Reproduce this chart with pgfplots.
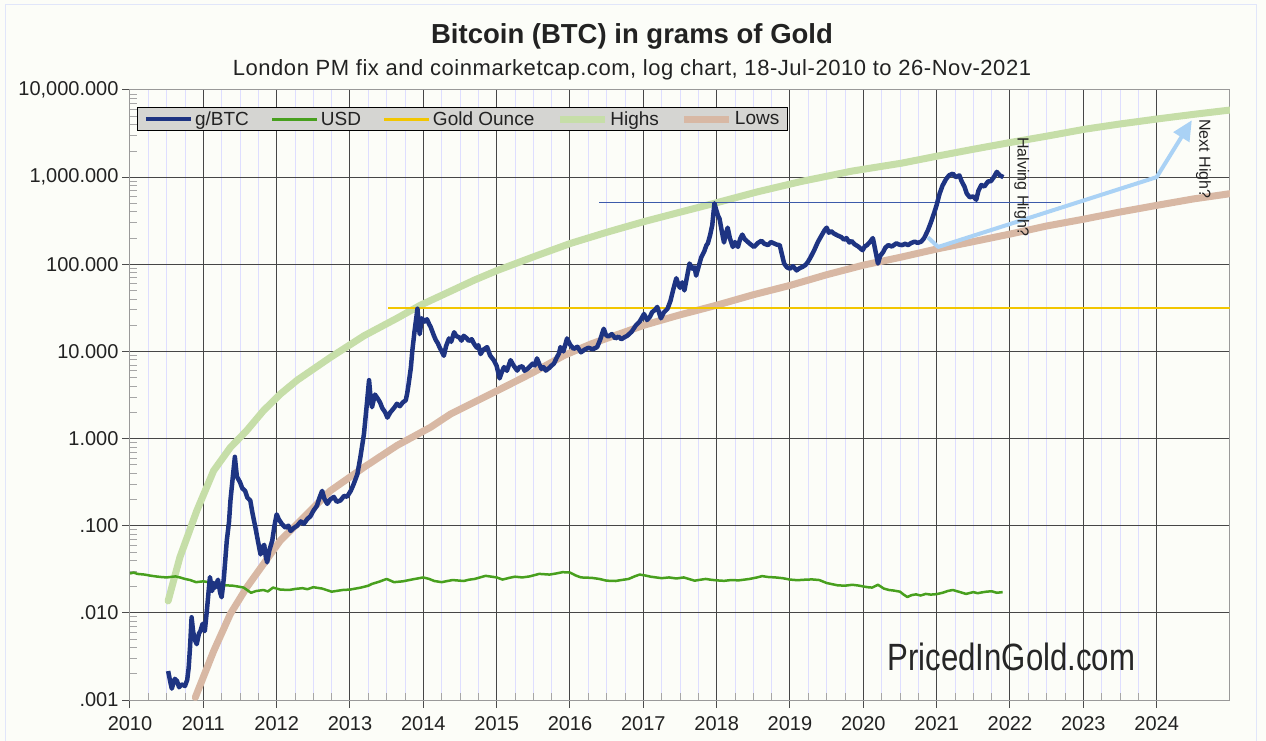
\documentclass[border=0pt]{standalone}
\usepackage{fontspec}
\setmainfont{Liberation Sans}
\newfontfamily\wmfont[FakeStretch=0.82]{Liberation Sans}
\usepackage{pgfplots}
\pgfplotsset{compat=1.18}
\usetikzlibrary{arrows.meta}
\definecolor{bgc}{RGB}{252,253,248}
\definecolor{borderc}{RGB}{225,230,250}
\definecolor{btc}{RGB}{30,52,130}
\definecolor{usd}{RGB}{72,160,30}
\definecolor{goldc}{RGB}{242,198,0}
\definecolor{highc}{RGB}{198,222,168}
\definecolor{lowc}{RGB}{216,184,164}
\definecolor{arrowc}{RGB}{170,210,245}
\definecolor{hlinec}{RGB}{60,90,170}
\definecolor{legc}{RGB}{213,213,210}
\definecolor{gridc}{RGB}{70,70,70}
\definecolor{minorc}{RGB}{222,222,255}
\definecolor{textc}{RGB}{34,34,34}

\pgfplotstableread{
x y
2010.52 0.00215
2010.55 0.00160
2010.57 0.00135
2010.61 0.00175
2010.64 0.00166
2010.67 0.00140
2010.70 0.00151
2010.75 0.00145
2010.78 0.00170
2010.80 0.00234
2010.82 0.00420
2010.84 0.0089
2010.86 0.0062
2010.88 0.0050
2010.91 0.00437
2010.94 0.0058
2010.96 0.00617
2010.99 0.0075
2011.02 0.00617
2011.05 0.0110
2011.09 0.0257
2011.12 0.0178
2011.14 0.0220
2011.16 0.0195
2011.20 0.024
2011.23 0.0170
2011.25 0.0151
2011.28 0.0250
2011.32 0.0676
2011.35 0.110
2011.37 0.195
2011.40 0.350
2011.43 0.617
2011.45 0.420
2011.46 0.363
2011.50 0.316
2011.53 0.270
2011.57 0.251
2011.60 0.210
2011.64 0.195
2011.67 0.140
2011.71 0.0955
2011.74 0.0700
2011.78 0.0468
2011.80 0.0560
2011.83 0.0603
2011.85 0.0450
2011.87 0.038
2011.90 0.0520
2011.94 0.0676
2011.97 0.100
2012.00 0.135
2012.03 0.118
2012.07 0.105
2012.12 0.095
2012.16 0.100
2012.19 0.0871
2012.24 0.095
2012.28 0.1
2012.33 0.112
2012.37 0.105
2012.42 0.120
2012.46 0.128
2012.50 0.148
2012.55 0.170
2012.58 0.205
2012.62 0.251
2012.65 0.205
2012.69 0.178
2012.73 0.200
2012.78 0.214
2012.82 0.188
2012.87 0.195
2012.92 0.220
2012.96 0.215
2013.01 0.251
2013.05 0.300
2013.10 0.389
2013.14 0.600
2013.19 1.122
2013.23 2.50
2013.26 4.68
2013.28 3.00
2013.30 2.29
2013.34 3.20
2013.37 2.95
2013.41 2.60
2013.44 2.24
2013.48 2.00
2013.51 1.74
2013.55 2.00
2013.58 2.14
2013.61 2.30
2013.64 2.51
2013.68 2.35
2013.72 2.60
2013.76 2.75
2013.78 3.30
2013.80 4.27
2013.83 6.50
2013.85 10.2
2013.88 17.0
2013.92 30.9
2013.95 15.8
2013.98 24.0
2014.02 22.0
2014.05 23.4
2014.08 20.5
2014.10 19.1
2014.14 15.5
2014.17 13.5
2014.20 12.3
2014.22 11.2
2014.25 10.0
2014.28 8.91
2014.31 11.5
2014.35 14.1
2014.38 12.9
2014.42 16.6
2014.45 15.0
2014.49 14.5
2014.52 13.3
2014.55 15.1
2014.59 14.2
2014.62 13.2
2014.66 13.8
2014.69 12.3
2014.73 11.0
2014.75 11.8
2014.78 9.33
2014.82 10.5
2014.87 11.2
2014.91 9.0
2014.96 7.94
2015.00 6.8
2015.04 4.90
2015.07 5.8
2015.10 6.61
2015.14 6.0
2015.19 7.94
2015.23 6.9
2015.28 6.03
2015.31 6.6
2015.35 6.76
2015.38 6.0
2015.42 6.31
2015.46 6.8
2015.49 7.24
2015.52 6.9
2015.55 8.32
2015.58 7.2
2015.61 6.31
2015.64 6.6
2015.67 6.03
2015.72 6.5
2015.75 6.9
2015.78 7.24
2015.82 8.5
2015.85 9.5
2015.87 11.2
2015.91 10.0
2015.96 14.1
2016.00 12.0
2016.05 10.7
2016.10 11.3
2016.15 9.77
2016.20 10.5
2016.25 11.0
2016.31 10.6
2016.37 11.2
2016.41 13.5
2016.46 18.2
2016.49 15.5
2016.52 14.8
2016.57 15.8
2016.62 14.1
2016.66 14.8
2016.70 13.8
2016.74 14.5
2016.78 15.1
2016.84 16.8
2016.90 20.0
2016.95 22.0
2017.01 26.9
2017.05 22.9
2017.09 25.0
2017.12 28.2
2017.16 30.0
2017.19 32.4
2017.22 27.0
2017.24 24.0
2017.28 28.0
2017.33 30.9
2017.37 38.0
2017.41 52.0
2017.45 69.2
2017.48 58.0
2017.50 53.7
2017.53 62.0
2017.56 50.1
2017.60 75.0
2017.63 102
2017.67 89.1
2017.70 92.0
2017.72 74.1
2017.76 98.0
2017.79 120
2017.83 140
2017.86 165
2017.88 174
2017.91 215
2017.94 282
2017.97 501
2017.99 430
2018.02 360
2018.04 331
2018.07 240
2018.10 178
2018.13 230
2018.15 263
2018.18 200
2018.22 158
2018.25 180
2018.29 158
2018.32 195
2018.35 219
2018.38 195
2018.42 182
2018.46 170
2018.51 158
2018.56 175
2018.61 186
2018.65 172
2018.70 166
2018.74 180
2018.78 174
2018.82 168
2018.86 166
2018.89 130
2018.92 102
2018.96 92.0
2019.00 89.1
2019.04 95.0
2019.09 85.1
2019.13 90.0
2019.17 93.3
2019.21 98.0
2019.24 105
2019.28 120
2019.33 145
2019.38 180
2019.43 214
2019.47 245
2019.50 263
2019.53 230
2019.56 240
2019.60 225
2019.65 214
2019.70 205
2019.74 191
2019.77 200
2019.81 178
2019.84 185
2019.88 170
2019.93 160
2019.99 145
2020.02 160
2020.05 166
2020.09 180
2020.13 200
2020.16 150
2020.20 102
2020.23 125
2020.27 138
2020.30 155
2020.34 166
2020.39 160
2020.45 174
2020.49 168
2020.53 166
2020.57 172
2020.61 166
2020.65 175
2020.70 182
2020.74 176
2020.79 182
2020.83 200
2020.88 245
2020.92 300
2020.97 398
2021.00 480
2021.04 646
2021.08 800
2021.13 955
2021.17 1050
2021.22 1096
2021.26 1000
2021.31 1047
2021.34 900
2021.38 776
2021.41 650
2021.45 589
2021.50 600
2021.54 550
2021.57 700
2021.61 813
2021.65 780
2021.70 891
2021.74 900
2021.78 1000
2021.82 1148
2021.86 1050
2021.91 1000
}\btcdata

\pgfplotstableread{
x y
2010.00 0.0283
2010.05 0.0290
2010.10 0.0280
2010.20 0.0275
2010.27 0.0268
2010.35 0.0262
2010.42 0.0258
2010.50 0.0255
2010.62 0.0262
2010.68 0.0255
2010.75 0.0245
2010.82 0.0238
2010.90 0.0225
2011.00 0.0230
2011.10 0.0223
2011.20 0.0218
2011.30 0.0207
2011.40 0.0205
2011.48 0.0200
2011.55 0.0195
2011.65 0.0170
2011.72 0.0178
2011.82 0.0183
2011.88 0.0176
2011.95 0.0195
2012.05 0.0185
2012.17 0.0183
2012.25 0.0188
2012.35 0.0192
2012.42 0.0187
2012.50 0.0197
2012.62 0.0190
2012.75 0.0175
2012.90 0.0183
2013.00 0.0185
2013.15 0.0195
2013.25 0.0205
2013.30 0.0215
2013.40 0.0228
2013.50 0.0245
2013.60 0.0225
2013.72 0.0230
2013.85 0.0242
2014.00 0.0255
2014.08 0.0245
2014.15 0.0232
2014.25 0.0225
2014.33 0.0232
2014.40 0.0238
2014.55 0.0232
2014.62 0.0240
2014.70 0.0245
2014.85 0.0266
2015.00 0.0255
2015.08 0.0241
2015.17 0.0252
2015.25 0.0260
2015.35 0.0255
2015.45 0.0262
2015.58 0.0280
2015.72 0.0275
2015.80 0.0282
2015.90 0.0293
2016.00 0.0290
2016.08 0.0268
2016.15 0.0255
2016.30 0.0252
2016.40 0.0245
2016.50 0.0234
2016.62 0.0232
2016.70 0.0238
2016.80 0.0245
2016.88 0.0262
2016.95 0.0275
2017.03 0.0268
2017.10 0.0260
2017.25 0.0250
2017.35 0.0255
2017.45 0.0248
2017.55 0.0255
2017.70 0.0234
2017.78 0.0240
2017.85 0.0245
2017.92 0.0240
2018.00 0.0236
2018.10 0.0233
2018.20 0.0238
2018.30 0.0236
2018.45 0.0245
2018.55 0.0255
2018.62 0.0264
2018.70 0.0258
2018.80 0.0255
2018.90 0.0250
2019.00 0.0241
2019.10 0.0237
2019.20 0.0240
2019.30 0.0242
2019.40 0.0238
2019.50 0.0220
2019.65 0.0207
2019.75 0.0205
2019.85 0.0210
2019.93 0.0206
2020.00 0.0201
2020.06 0.0197
2020.12 0.0195
2020.20 0.0210
2020.28 0.0190
2020.35 0.0183
2020.42 0.0180
2020.50 0.0175
2020.55 0.0162
2020.60 0.0152
2020.66 0.0160
2020.72 0.0163
2020.78 0.0158
2020.85 0.0165
2020.92 0.0162
2021.00 0.0164
2021.08 0.0170
2021.15 0.0178
2021.22 0.0183
2021.30 0.0175
2021.40 0.0165
2021.50 0.0173
2021.56 0.0168
2021.62 0.0172
2021.68 0.0175
2021.75 0.0177
2021.82 0.0170
2021.90 0.0173
}\usddata

\pgfplotstableread{
x y
2010.52 0.0137
2010.68 0.0433
2010.91 0.148
2011.14 0.427
2011.37 0.794
2011.59 1.23
2011.82 2.09
2012.05 3.24
2012.28 4.68
2012.73 8.51
2013.19 15.1
2013.64 24.0
2013.96 33.9
2014.42 51.3
2014.70 66.1
2015.01 85.1
2015.55 126
2016.01 174
2016.51 234
2017.01 309
2017.51 398
2017.97 501
2018.55 676
2019.15 891
2019.85 1175
2020.52 1445
2021.00 1738
2021.50 2089
2022.02 2512
2022.50 2951
2023.02 3548
2023.50 4074
2024.03 4677
2024.50 5248
2025.00 5888
}\highdata

\pgfplotstableread{
x y
2010.89 0.00107
2011.14 0.00363
2011.37 0.00977
2011.59 0.0195
2011.82 0.0363
2012.05 0.0676
2012.28 0.105
2012.73 0.251
2013.19 0.468
2013.64 0.832
2014.10 1.35
2014.37 1.91
2015.01 3.55
2015.50 5.75
2015.92 9.0
2016.30 12.3
2017.01 20.0
2017.50 26.3
2018.00 33.9
2018.50 44.7
2019.01 57.5
2019.50 75.9
2020.00 97.7
2020.50 120
2021.02 151
2021.50 182
2022.02 224
2022.50 275
2023.02 331
2023.50 398
2024.03 479
2024.50 562
2025.00 646
}\lowdata

\begin{document}
\begin{tikzpicture}
\fill[bgc] (0pt,0pt) rectangle (1266pt,741pt);
\path[use as bounding box] (0pt,0pt) rectangle (1266pt,741pt);
\draw[borderc, line width=1pt] (5pt,-5pt) rectangle (1256pt,736pt);
\node[font=\bfseries\fontsize{27.5}{31}\selectfont, text=textc, anchor=base] at (632pt,697pt) {Bitcoin (BTC) in grams of Gold};
\node[font=\fontsize{22}{26}\selectfont\addfontfeature{LetterSpace=2.5}, text=textc, anchor=base] at (632pt,665pt) {London PM fix and coinmarketcap.com, log chart, 18-Jul-2010 to 26-Nov-2021};
\begin{axis}[
  at={(130pt,41pt)}, anchor=south west,
  scale only axis, width=1100pt, height=610pt,
  xmin=2010, xmax=2025,
  ymode=log, ymin=0.001, ymax=10000,
  xtick={2010,2011,2012,2013,2014,2015,2016,2017,2018,2019,2020,2021,2022,2023,2024},
  xticklabels={2010,2011,2012,2013,2014,2015,2016,2017,2018,2019,2020,2021,2022,2023,2024},
  minor x tick num=3,
  ytick={0.001,0.01,0.1,1,10,100,1000,10000},
  yticklabels={{.001},{.010},{.100},{1.000},{10.000},{100.000},{1,000.000},{10,000.000}},
  minor ytick={0.002,0.003,0.004,0.005,0.006,0.007,0.008,0.009,
    0.02,0.03,0.04,0.05,0.06,0.07,0.08,0.09,
    0.2,0.3,0.4,0.5,0.6,0.7,0.8,0.9,
    2,3,4,5,6,7,8,9,20,30,40,50,60,70,80,90,
    200,300,400,500,600,700,800,900,2000,3000,4000,5000,6000,7000,8000,9000},
  xmajorgrids=true, xminorgrids=true, ymajorgrids=true, yminorgrids=false,
  major grid style={gridc, line width=1pt},
  minor grid style={minorc, line width=0.8pt},
  axis line style={black!40, line width=1pt},
  xtick pos=bottom, ytick pos=left,
  tick align=outside, major tick length=8pt, minor tick length=7pt,
  major tick style={black!70, line width=1pt},
  minor tick style={black!35, line width=0.8pt},
  minor x tick style={yshift=7pt},
  minor y tick style={xshift=7pt},
  ticklabel style={font=\fontsize{20}{24}\selectfont, text=textc},
  xticklabel style={yshift=-5pt},
  legend columns=5,
  legend cell align=left,
  legend style={at={(axis description cs:0.0064,0.972)}, anchor=north west,
    fill=legc, draw=black, line width=1pt, font=\fontsize{19}{22}\selectfont,
    text=textc, inner xsep=6pt, inner ysep=2pt,
    /tikz/every even column/.append style={column sep=20pt}},
  legend image code/.code={\draw[#1] (0pt,0pt) -- (45pt,0pt);},
]
\addplot[highc, line width=7pt, line cap=round, line join=round, forget plot] table {\highdata};
\addplot[lowc, line width=7pt, line cap=round, line join=round, forget plot] table {\lowdata};
\addplot[goldc, line width=2pt, forget plot] coordinates {(2013.52,31.1) (2025,31.1)};
\addplot[hlinec, line width=1.5pt, forget plot] coordinates {(2016.40,515) (2022.70,515)};
\addplot[usd, line width=2.5pt, line join=round, forget plot] table {\usddata};
\addplot[btc, line width=4.5pt, line join=round, forget plot] table {\btcdata};
\addplot[arrowc, line width=4pt, line join=round, -{Triangle[length=20pt,width=18pt]}, forget plot]
  coordinates {(2020.88,204) (2021.02,158) (2024.0,1000) (2024.48,4500)};
\addlegendimage{btc, line width=4.5pt}
\addlegendentry{g/BTC}
\addlegendimage{usd, line width=3pt}
\addlegendentry{USD}
\addlegendimage{goldc, line width=3pt}
\addlegendentry{Gold Ounce}
\addlegendimage{highc, line width=7pt}
\addlegendentry{Highs}
\addlegendimage{lowc, line width=7pt}
\addlegendentry{Lows}
\node[rotate=-90, font=\fontsize{16}{18}\selectfont, text=textc] at (axis cs:2022.16,770) {Halving High?};
\node[rotate=-90, font=\fontsize{16}{18}\selectfont, text=textc] at (axis cs:2024.64,1620) {Next High?};
\node[font=\wmfont\fontsize{38}{40}\selectfont, text=black!85] at (axis cs:2022.02,0.0031) {PricedInGold.com};
\end{axis}
\end{tikzpicture}
\end{document}
